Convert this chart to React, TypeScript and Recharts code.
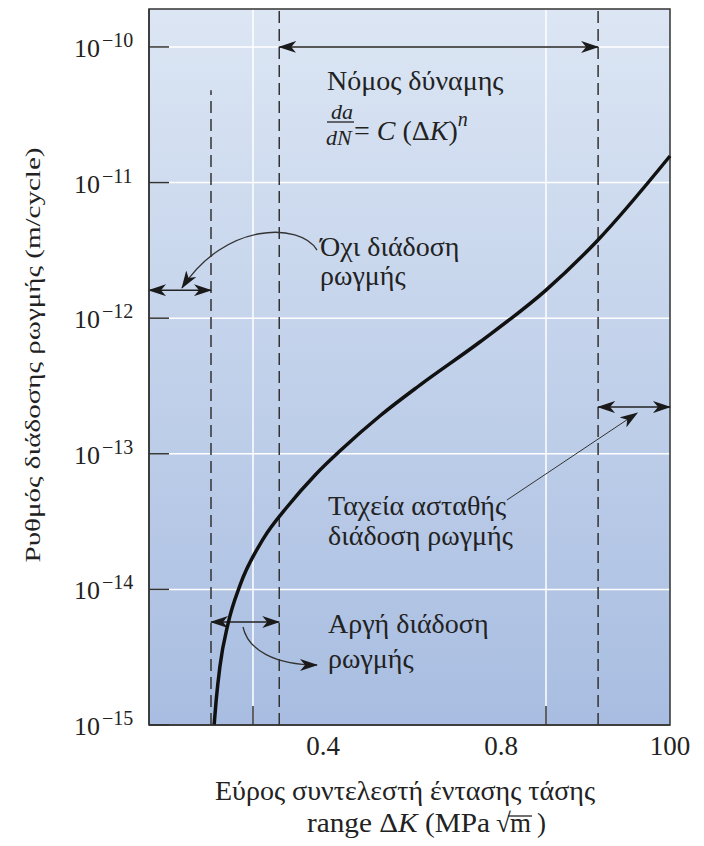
import React from "react";
import {
  LineChart,
  Line,
  XAxis,
  YAxis,
  CartesianGrid,
  ReferenceLine,
  ReferenceArea,
} from "recharts";

// Καμπύλη da/dN – ΔK (τιμές διαβασμένες από το σχήμα)
const deltaK = [
  12.5, 12.9, 13.6, 15.2, 17.5, 21.9, 26.5, 31.9, 37.0, 44.3, 52.0, 63.5, 76.2, 86.0, 100,
];
const crackRate = [
  1.0e-15, 1.53e-15, 2.68e-15, 5.65e-15, 1.08e-14, 2.35e-14, 4.05e-14, 6.98e-14,
  1.08e-13, 1.9e-13, 3.21e-13, 6.67e-13, 1.61e-12, 3.71e-12, 1.57e-11,
];

const yTicks = [1e-15, 1e-14, 1e-13, 1e-12, 1e-11, 1e-10];
const yTop = 1.905e-10;
const xTickValues = [33.4, 67.6, 100];
const xTickLabels = ["0.4", "0.8", "100"];
const xGridValues = [19.96, 76.2];

// όρια περιοχών (διακεκομμένες γραμμές)
const thresholdK = 11.9;
const powerLawStart = 25.0;
const powerLawEnd = 86.2;

const data = deltaK.map((k, i) => ({ k, rate: crackRate[i] }));

const FONT = "'Liberation Serif', 'DejaVu Serif', serif";
const INK = "#222";

function YTick(props: any) {
  const { x, y, payload } = props;
  const exp = Math.round(Math.log10(payload.value));
  return (
    <g>
      <line x1={x} x2={x + 20} y1={y} y2={y} stroke="#333" strokeWidth={1.5} />
      <text x={x - 75} y={y + 10} fontSize={26} fontFamily={FONT} fill={INK}>
        10
        <tspan dx={2} dy={-10} fontSize={20}>{`\u2212${-exp}`}</tspan>
      </text>
    </g>
  );
}

function XTick(props: any) {
  const { x, y, payload, index } = props;
  return (
    <text x={x} y={y + 30} textAnchor="middle" fontSize={27} fontFamily={FONT} fill={INK}>
      {xTickLabels[index] ?? payload.value}
    </text>
  );
}

const arrowLine = (p: any) => (
  <line
    x1={p.x1}
    y1={p.y1}
    x2={p.x2}
    y2={p.y2}
    stroke="#222"
    strokeWidth={1.5}
    markerStart="url(#ahead)"
    markerEnd="url(#ahead)"
  />
);

const pointer = (p: any) => (
  <line x1={p.x1} y1={p.y1} x2={p.x2} y2={p.y2} stroke="#333" strokeWidth={1} markerEnd="url(#ahead2)" />
);

const curved = (c1: [number, number], c2: [number, number]) => (p: any) => (
  <path
    d={`M${p.x1},${p.y1} C${p.x1 + c1[0]},${p.y1 + c1[1]} ${p.x2 + c2[0]},${p.y2 + c2[1]} ${p.x2},${p.y2}`}
    fill="none"
    stroke="#333"
    strokeWidth={1.3}
    markerEnd="url(#ahead2)"
  />
);

export default function App() {
  return (
    <LineChart
      width={696}
      height={838}
      data={data}
      margin={{ top: 1, right: 34, bottom: 0, left: 0 }}
      style={{ fontFamily: FONT }}
    >
      <defs>
        <linearGradient id="bg" x1="0" y1="0" x2="0" y2="1">
          <stop offset="0%" stopColor="#dce6f4" />
          <stop offset="100%" stopColor="#a8bde1" />
        </linearGradient>
        <marker
          id="ahead"
          viewBox="0 0 18 12"
          refX={17}
          refY={6}
          markerWidth={18}
          markerHeight={12}
          markerUnits="userSpaceOnUse"
          orient="auto-start-reverse"
        >
          <path d="M0,0 L18,6 L0,12 L5,6 z" fill="#1a1a1a" />
        </marker>
        <marker
          id="ahead2"
          viewBox="0 0 18 12"
          refX={17}
          refY={6}
          markerWidth={18}
          markerHeight={12}
          markerUnits="userSpaceOnUse"
          orient="auto"
        >
          <path d="M0,0 L18,6 L0,12 L5,6 z" fill="#1a1a1a" />
        </marker>
      </defs>

      <CartesianGrid
        stroke="#ffffff"
        strokeWidth={1.5}
        fill="url(#bg)"
        fillOpacity={1}
        horizontalValues={yTicks}
        verticalValues={xGridValues}
      />

      <XAxis
        dataKey="k"
        type="number"
        domain={[0, 100]}
        ticks={xTickValues}
        interval={0}
        tick={<XTick />}
        tickLine={false}
        tickSize={0}
        tickMargin={0}
        height={121}
        axisLine={{ stroke: "#333", strokeWidth: 1.5 }}
      />
      <YAxis
        type="number"
        scale="log"
        domain={[1e-15, yTop]}
        ticks={yTicks}
        interval={0}
        tick={<YTick />}
        tickLine={false}
        tickSize={0}
        tickMargin={0}
        width={141}
        axisLine={{ stroke: "#333", strokeWidth: 1.5 }}
      />

      {/* εσωτερικές υποδιαιρέσεις του άξονα x */}
      {xGridValues.map((v) => (
        <ReferenceLine
          key={v}
          segment={[
            { x: v, y: 1e-15 },
            { x: v, y: 1.38e-15 },
          ]}
          stroke="#333"
          strokeWidth={1.5}
        />
      ))}

      {/* διακεκομμένα όρια */}
      <ReferenceLine
        segment={[
          { x: thresholdK, y: 1e-15 },
          { x: thresholdK, y: 4.8e-11 },
        ]}
        stroke="#333"
        strokeWidth={1.5}
        strokeDasharray="12 6"
      />
      <ReferenceLine x={powerLawStart} stroke="#333" strokeWidth={1.5} strokeDasharray="12 6" />
      <ReferenceLine x={powerLawEnd} stroke="#333" strokeWidth={1.5} strokeDasharray="12 6" />

      {/* βέλη περιοχών */}
      <ReferenceLine
        segment={[
          { x: powerLawStart, y: 1e-10 },
          { x: powerLawEnd, y: 1e-10 },
        ]}
        shape={arrowLine}
      />
      <ReferenceLine
        segment={[
          { x: 0, y: 1.61e-12 },
          { x: thresholdK, y: 1.61e-12 },
        ]}
        shape={arrowLine}
      />
      <ReferenceLine
        segment={[
          { x: thresholdK, y: 5.75e-15 },
          { x: powerLawStart, y: 5.75e-15 },
        ]}
        shape={arrowLine}
      />
      <ReferenceLine
        segment={[
          { x: powerLawEnd, y: 2.21e-13 },
          { x: 100, y: 2.21e-13 },
        ]}
        shape={arrowLine}
      />
      <ReferenceLine
        segment={[
          { x: 68.7, y: 4.56e-14 },
          { x: 93.7, y: 2.0e-13 },
        ]}
        shape={pointer}
      />
      <ReferenceLine
        segment={[
          { x: 32.25, y: 3.18e-12 },
          { x: 6.33, y: 1.67e-12 },
        ]}
        shape={curved([-17, -28], [43, -66])}
      />
      <ReferenceLine
        segment={[
          { x: 18.04, y: 5.28e-15 },
          { x: 32.25, y: 2.77e-15 },
        ]}
        shape={curved([5, 23], [-42, 0])}
      />

      <ReferenceArea
        x1={0}
        x2={100}
        y1={1e-15}
        y2={yTop}
        fill="none"
        stroke="#333"
        strokeWidth={1.5}
      />

      <Line
        type="monotone"
        dataKey="rate"
        stroke="#111"
        strokeWidth={3.5}
        dot={false}
        isAnimationActive={false}
      />

      <g fontFamily={FONT} fill={INK}>
        <text x={319} y={82} fontSize={28}>Νόμος δύναμης</text>
        <text x={323} y={111} fontSize={22} fontStyle="italic">da</text>
        <line x1={319} x2={346} y1={114} y2={114} stroke={INK} strokeWidth={1.3} />
        <text x={318} y={137} fontSize={22} fontStyle="italic">dN</text>
        <text x={346} y={132} fontSize={28}>
          = <tspan fontStyle="italic">C</tspan> (Δ<tspan fontStyle="italic">K</tspan>)
          <tspan dy={-14} fontSize={20} fontStyle="italic">n</tspan>
        </text>

        <text x={312} y={248} fontSize={28}>Όχι διάδοση</text>
        <text x={312} y={277} fontSize={28}>ρωγμής</text>

        <text x={320} y={507} fontSize={28}>Ταχεία ασταθής</text>
        <text x={320} y={537} fontSize={28}>διάδοση ρωγμής</text>

        <text x={320} y={625} fontSize={28}>Αργή διάδοση</text>
        <text x={320} y={660} fontSize={28}>ρωγμής</text>

        <text x={207} y={792} fontSize={27} textLength={380} lengthAdjust="spacingAndGlyphs">
          Εύρος συντελεστή έντασης τάσης
        </text>
        <text x={299} y={824} fontSize={27} textLength={183} lengthAdjust="spacingAndGlyphs">
          range Δ<tspan fontStyle="italic">K</tspan> (MPa
        </text>
        <text x={488} y={824} fontSize={27}>√</text>
        <line x1={500} x2={524} y1={808} y2={808} stroke={INK} strokeWidth={1.3} />
        <text x={502} y={824} fontSize={27}>m</text>
        <text x={529} y={824} fontSize={27}>)</text>

        <text
          x={32}
          y={347}
          fontSize={22}
          textAnchor="middle"
          transform="rotate(-90, 32, 347)"
          textLength={415}
          lengthAdjust="spacingAndGlyphs"
        >
          Ρυθμός διάδοσης ρωγμής (m/cycle)
        </text>
      </g>
    </LineChart>
  );
}
